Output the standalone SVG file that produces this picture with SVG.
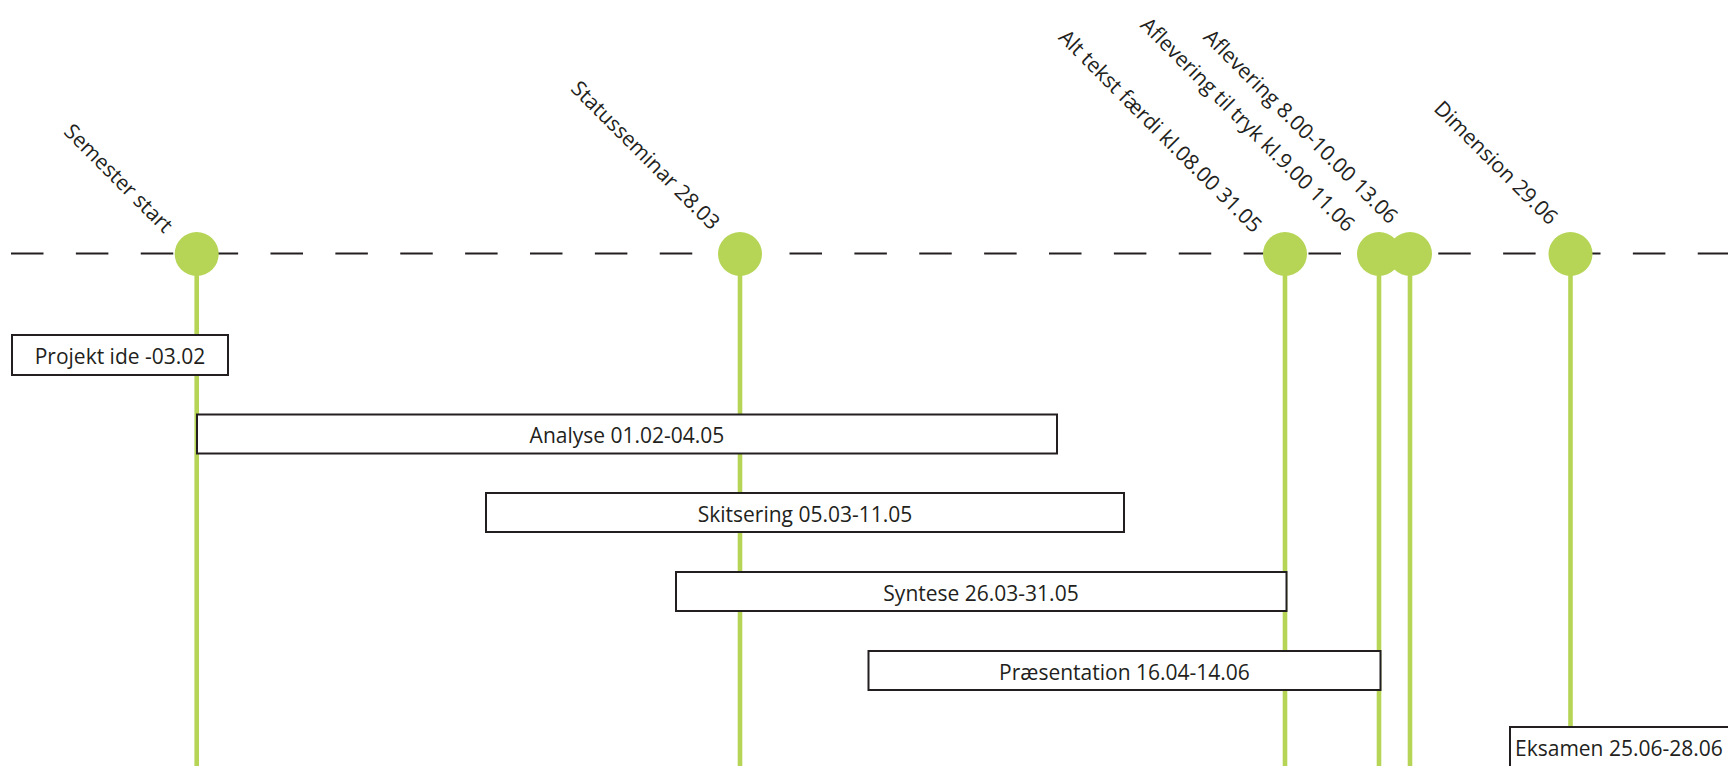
<svg xmlns="http://www.w3.org/2000/svg" width="1728" height="766" viewBox="0 0 1728 766">
  <style>
    .axis { stroke: #231f20; stroke-width: 2; stroke-dasharray: 32.5 32.375; fill: none; }
    .stem { stroke: #b6d556; stroke-width: 4.6; fill: none; }
    .dot { fill: #b6d556; }
    .box { fill: #ffffff; stroke: #231f20; stroke-width: 2; }
    .lbl { font-family: "Open Sans", "Noto Sans", sans-serif; font-size: 21px; fill: #231f20; }
    .mid { text-anchor: middle; }
    .tilt { text-anchor: end; }
  </style>

  <rect width="1728" height="766" fill="#ffffff"/>

  <!-- timeline axis and milestone stems -->
  <g id="connectors">
    <line class="axis" x1="11" y1="253.5" x2="1730" y2="253.5"/>
    <line class="stem" x1="196.7" y1="254" x2="196.7" y2="766"/>
    <line class="stem" x1="740" y1="254" x2="740" y2="766"/>
    <line class="stem" x1="1285" y1="254" x2="1285" y2="766"/>
    <line class="stem" x1="1379" y1="254" x2="1379" y2="766"/>
    <line class="stem" x1="1410" y1="254" x2="1410" y2="766"/>
    <line class="stem" x1="1570.5" y1="254" x2="1570.5" y2="766"/>
  </g>

  <!-- milestones -->
  <g id="semester-start">
    <circle class="dot" cx="196.7" cy="254" r="22"/>
    <text class="lbl tilt" transform="translate(164 234) rotate(45)">Semester start</text>
  </g>
  <g id="statusseminar">
    <circle class="dot" cx="740" cy="254" r="22"/>
    <text class="lbl tilt" transform="translate(711 231) rotate(45)">Statusseminar 28.03</text>
  </g>
  <g id="alt-tekst">
    <circle class="dot" cx="1285" cy="254" r="22"/>
    <text class="lbl tilt" transform="translate(1253 234) rotate(45)">Alt tekst færdi kl.08.00 31.05</text>
  </g>
  <g id="aflevering-tryk">
    <circle class="dot" cx="1379" cy="254" r="22"/>
    <text class="lbl tilt" transform="translate(1346 233) rotate(45)">Aflevering til tryk kl.9.00 11.06</text>
  </g>
  <g id="aflevering">
    <circle class="dot" cx="1410" cy="254" r="22"/>
    <text class="lbl tilt" transform="translate(1389 225) rotate(45)">Aflevering 8.00-10.00 13.06</text>
  </g>
  <g id="dimension">
    <circle class="dot" cx="1570.5" cy="254" r="22"/>
    <text class="lbl tilt" transform="translate(1549 226) rotate(45)">Dimension 29.06</text>
  </g>

  <!-- phases -->
  <g id="projekt-ide">
    <rect class="box" x="12" y="335" width="216" height="40"/>
    <text class="lbl mid" x="120" y="364">Projekt ide -03.02</text>
  </g>
  <g id="analyse">
    <rect class="box" x="197" y="414.5" width="860" height="39"/>
    <text class="lbl mid" x="627" y="443">Analyse 01.02-04.05</text>
  </g>
  <g id="skitsering">
    <rect class="box" x="486" y="493" width="638" height="39"/>
    <text class="lbl mid" x="805" y="521.5">Skitsering 05.03-11.05</text>
  </g>
  <g id="syntese">
    <rect class="box" x="676" y="572" width="610.5" height="39"/>
    <text class="lbl mid" x="981" y="600.5">Syntese 26.03-31.05</text>
  </g>
  <g id="praesentation">
    <rect class="box" x="868.5" y="651" width="512" height="39"/>
    <text class="lbl mid" x="1124.5" y="679.5">Præsentation 16.04-14.06</text>
  </g>
  <g id="eksamen">
    <rect class="box" x="1510" y="727" width="230" height="45"/>
    <text class="lbl" x="1515" y="756">Eksamen 25.06-28.06</text>
  </g>
</svg>
